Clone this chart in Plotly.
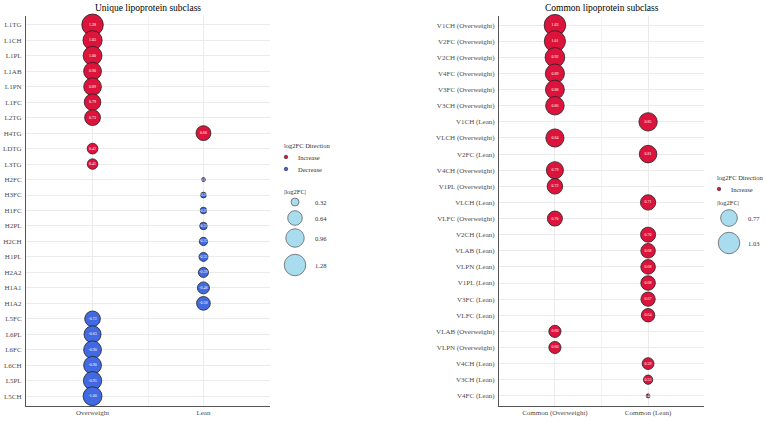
import plotly.graph_objects as go
import numpy as np

# ---------------- data ----------------
unique_features = ["L1TG", "L1CH", "L1PL", "L1AB", "L1PN", "L1FC", "L2TG", "H4TG", "LDTG", "L3TG",
                   "H2FC", "H3FC", "H1FC", "H2PL", "H2CH", "H1PL", "H2A2", "H1A1", "H1A2",
                   "L5FC", "L6PL", "L6FC", "L6CH", "L5PL", "L5CH"]
unique_groups = ["Overweight", "Overweight", "Overweight", "Overweight", "Overweight", "Overweight",
                 "Overweight", "Lean", "Overweight", "Overweight",
                 "Lean", "Lean", "Lean", "Lean", "Lean", "Lean", "Lean", "Lean", "Lean",
                 "Overweight", "Overweight", "Overweight", "Overweight", "Overweight", "Overweight"]
unique_log2fc = [1.28, 1.03, 1.00, 0.90, 0.89, 0.79, 0.73, 0.66, 0.42, 0.41,
                 -0.27, -0.28, -0.29, -0.31, -0.33, -0.35, -0.39, -0.48, -0.58,
                 -0.72, -0.83, -0.90, -0.90, -0.95, -1.00]
unique_x_labels = ["Overweight", "Lean"]
unique_size_breaks = [0.32, 0.64, 0.96, 1.28]

common_features = ["V1CH (Overweight)", "V2FC (Overweight)", "V2CH (Overweight)", "V4FC (Overweight)",
                   "V3FC (Overweight)", "V3CH (Overweight)", "V1CH (Lean)", "VLCH (Overweight)",
                   "V2FC (Lean)", "V4CH (Overweight)", "V1PL (Overweight)", "VLCH (Lean)",
                   "VLFC (Overweight)", "V2CH (Lean)", "VLAB (Lean)", "VLPN (Lean)", "V1PL (Lean)",
                   "V3FC (Lean)", "VLFC (Lean)", "VLAB (Overweight)", "VLPN (Overweight)",
                   "V4CH (Lean)", "V3CH (Lean)", "V4FC (Lean)"]
common_groups = ["Common (Overweight)"] * 6 + ["Common (Lean)", "Common (Overweight)", "Common (Lean)",
                 "Common (Overweight)", "Common (Overweight)", "Common (Lean)", "Common (Overweight)",
                 "Common (Lean)", "Common (Lean)", "Common (Lean)", "Common (Lean)", "Common (Lean)",
                 "Common (Lean)", "Common (Overweight)", "Common (Overweight)", "Common (Lean)",
                 "Common (Lean)", "Common (Lean)"]
common_log2fc = [1.03, 1.01, 0.92, 0.89, 0.88, 0.86, 0.85, 0.84, 0.81, 0.79, 0.72, 0.71,
                 0.70, 0.70, 0.68, 0.68, 0.68, 0.67, 0.64, 0.60, 0.60, 0.59, 0.53, 0.48]
common_x_labels = ["Common (Overweight)", "Common (Lean)"]
common_size_breaks = [0.77, 1.03]

# ---------------- style ----------------
W, H = 767, 421
INC = "#DC143C"
DEC = "#4169E1"
LEG_FILL = "#87CEEB"
FONT = "Liberation Serif"
GRID = "#ebebeb"
DMIN, DMAX = 4.0, 21.5


def size_fn(vals, vmin, vmax):
    a = np.abs(np.asarray(vals, dtype=float))
    return DMIN + (DMAX - DMIN) * np.sqrt(np.clip((a - vmin) / (vmax - vmin), 0, 1))


fig = go.Figure()

panels = [
    dict(feat=unique_features, grp=unique_groups, val=unique_log2fc, xl=unique_x_labels,
         xa="x", ya="y", x0=26, x1=270),
    dict(feat=common_features, grp=common_groups, val=common_log2fc, xl=common_x_labels,
         xa="x2", ya="y2", x0=499, x1=704),
]
top_px, bot_px = 15.5, 405.5

for i, p in enumerate(panels):
    vals = np.array(p["val"])
    vmin, vmax = np.abs(vals).min(), np.abs(vals).max()
    p["vmin"], p["vmax"] = vmin, vmax
    xs = [p["xl"].index(g) for g in p["grp"]]
    fig.add_trace(go.Scatter(
        x=xs, y=p["feat"], mode="markers+text", xaxis=p["xa"], yaxis=p["ya"],
        text=[f"{v:.2f}" for v in vals], textposition="middle center",
        textfont=dict(family=FONT, size=4, color="white"),
        marker=dict(size=size_fn(vals, vmin, vmax),
                    color=[INC if v > 0 else DEC for v in vals],
                    line=dict(color="#222222", width=0.8), opacity=1),
        showlegend=False, hoverinfo="skip", cliponaxis=False))
    n = len(p["feat"])
    ax = dict(domain=[p["x0"] / W, p["x1"] / W], range=[-0.6, 1.6],
              tickvals=[0, 1], ticktext=p["xl"], showgrid=True, gridcolor=GRID, gridwidth=0.6,
              zeroline=False, showline=True, linecolor="#555555", linewidth=1, ticks="",
              tickfont=dict(family=FONT, size=7, color="#4d4d4d"),
              minor=dict(tickvals=[0.5], showgrid=True, gridcolor="#f2f2f2", gridwidth=0.6),
              anchor=p["ya"], fixedrange=True)
    ay = dict(domain=[(H - bot_px) / H, (H - top_px) / H], type="category",
              categoryorder="array", categoryarray=p["feat"], range=[n - 1 + 0.6, -0.6],
              showgrid=True, gridcolor=GRID, gridwidth=0.6, zeroline=False, showline=True,
              linecolor="#555555", linewidth=1, ticks="", ticklabelstandoff=2,
              tickfont=dict(family=FONT, size=7, color="#4d4d4d"), anchor=p["xa"], fixedrange=True)
    if i == 0:
        fig.update_layout(xaxis=ax, yaxis=ay)
    else:
        fig.update_layout(xaxis2=ax, yaxis2=ay)

# overlay pixel axes for titles and legends
fig.update_layout(
    xaxis3=dict(domain=[0, 1], range=[0, W], visible=False, fixedrange=True, anchor="y3"),
    yaxis3=dict(domain=[0, 1], range=[H, 0], visible=False, fixedrange=True, anchor="x3"),
)

ann = []


def text(x, y, s, size=6.5, anchor="left", color="#333333"):
    ann.append(dict(x=x, y=y, xref="x3", yref="y3", text=s, showarrow=False, xanchor=anchor,
                    yanchor="middle", font=dict(family=FONT, size=size, color=color)))


# titles
text(148, 8, "Unique lipoprotein subclass", size=9.5, anchor="center", color="black")
text(601.5, 8, "Common lipoprotein subclass", size=9.5, anchor="center", color="black")

# left legend
text(282, 145, "log2FC Direction")
fig.add_trace(go.Scatter(x=[286, 286], y=[157, 169], xaxis="x3", yaxis="y3", mode="markers",
                         marker=dict(size=3.5, color=[INC, DEC], line=dict(color="#222", width=0.6)),
                         showlegend=False, hoverinfo="skip"))
text(296, 157, "Increase")
text(296, 169, "Decrease")
text(282, 191, "|log2FC|")
ly = [202, 218, 238, 265]
fig.add_trace(go.Scatter(x=[295] * 4, y=ly, xaxis="x3", yaxis="y3", mode="markers",
                         marker=dict(size=size_fn(unique_size_breaks, panels[0]["vmin"], panels[0]["vmax"]),
                                     color=LEG_FILL, line=dict(color="#222", width=0.8)),
                         showlegend=False, hoverinfo="skip"))
for yy, b in zip(ly, unique_size_breaks):
    text(313, yy, f"{b:.2f}")

# right legend
text(715, 177, "log2FC Direction")
fig.add_trace(go.Scatter(x=[719], y=[189], xaxis="x3", yaxis="y3", mode="markers",
                         marker=dict(size=3.5, color=INC, line=dict(color="#222", width=0.6)),
                         showlegend=False, hoverinfo="skip"))
text(729, 189, "Increase")
text(715, 202, "|log2FC|")
ry = [218, 243]
fig.add_trace(go.Scatter(x=[729] * 2, y=ry, xaxis="x3", yaxis="y3", mode="markers",
                         marker=dict(size=size_fn(common_size_breaks, panels[1]["vmin"], panels[1]["vmax"]),
                                     color=LEG_FILL, line=dict(color="#222", width=0.8)),
                         showlegend=False, hoverinfo="skip"))
for yy, b in zip(ry, common_size_breaks):
    text(746, yy, f"{b:.2f}")

fig.update_layout(width=W, height=H, margin=dict(l=0, r=0, t=0, b=0),
                  paper_bgcolor="white", plot_bgcolor="rgba(0,0,0,0)", annotations=ann,
                  font=dict(family=FONT))
fig.write_html("out.html")
